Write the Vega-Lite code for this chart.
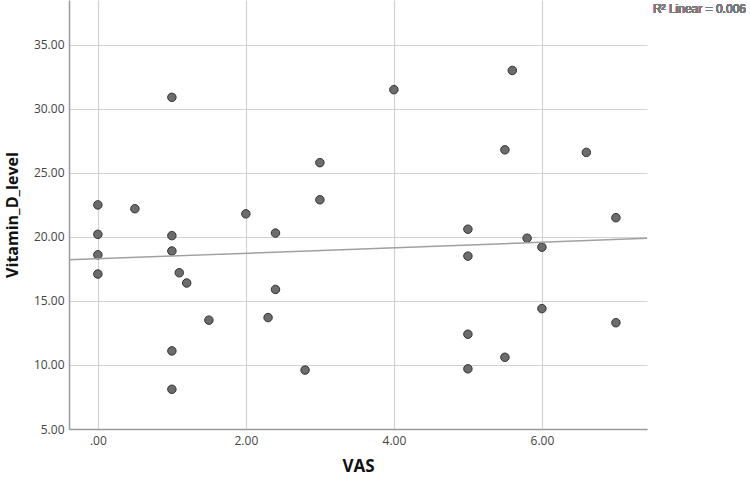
{
  "$schema": "https://vega.github.io/schema/vega-lite/v6.json",
  "autosize": "none",
  "width": 578,
  "height": 429,
  "padding": {"left": 69, "top": 0, "right": 103, "bottom": 49},
  "background": "white",
  "config": {
    "view": {"stroke": null},
    "font": "Open Sans",
    "axis": {
      "labelFont": "Open Sans",
      "titleFont": "Open Sans",
      "labelColor": "#444444",
      "labelFontSize": 12,
      "titleFontSize": 16,
      "titleFontWeight": "bold",
      "titleColor": "#111111",
      "gridColor": "#d2d2d2",
      "gridWidth": 1.2,
      "domainColor": "#9a9a9a",
      "domainWidth": 1.5,
      "ticks": false
    }
  },
  "data": {
    "values": [
      {"VAS": 0, "Vitamin_D_level": 22.5},
      {"VAS": 0, "Vitamin_D_level": 20.2},
      {"VAS": 0, "Vitamin_D_level": 18.6},
      {"VAS": 0, "Vitamin_D_level": 17.1},
      {"VAS": 0.5, "Vitamin_D_level": 22.2},
      {"VAS": 1, "Vitamin_D_level": 30.9},
      {"VAS": 1, "Vitamin_D_level": 20.1},
      {"VAS": 1, "Vitamin_D_level": 18.9},
      {"VAS": 1.1, "Vitamin_D_level": 17.2},
      {"VAS": 1.2, "Vitamin_D_level": 16.4},
      {"VAS": 1.5, "Vitamin_D_level": 13.5},
      {"VAS": 1, "Vitamin_D_level": 11.1},
      {"VAS": 1, "Vitamin_D_level": 8.1},
      {"VAS": 2, "Vitamin_D_level": 21.8},
      {"VAS": 2.4, "Vitamin_D_level": 20.3},
      {"VAS": 2.4, "Vitamin_D_level": 15.9},
      {"VAS": 2.3, "Vitamin_D_level": 13.7},
      {"VAS": 2.8, "Vitamin_D_level": 9.6},
      {"VAS": 3, "Vitamin_D_level": 25.8},
      {"VAS": 3, "Vitamin_D_level": 22.9},
      {"VAS": 4, "Vitamin_D_level": 31.5},
      {"VAS": 5, "Vitamin_D_level": 20.6},
      {"VAS": 5, "Vitamin_D_level": 18.5},
      {"VAS": 5, "Vitamin_D_level": 12.4},
      {"VAS": 5, "Vitamin_D_level": 9.7},
      {"VAS": 5.6, "Vitamin_D_level": 33.0},
      {"VAS": 5.5, "Vitamin_D_level": 26.8},
      {"VAS": 6.6, "Vitamin_D_level": 26.6},
      {"VAS": 7, "Vitamin_D_level": 21.5},
      {"VAS": 5.8, "Vitamin_D_level": 19.9},
      {"VAS": 6, "Vitamin_D_level": 19.2},
      {"VAS": 6, "Vitamin_D_level": 14.4},
      {"VAS": 7, "Vitamin_D_level": 13.3},
      {"VAS": 5.5, "Vitamin_D_level": 10.6}
    ]
  },
  "layer": [
    {
      "mark": {"type": "point", "filled": true, "fill": "#6c6c6c", "stroke": "#333333", "strokeWidth": 1, "size": 72, "opacity": 1},
      "encoding": {
        "x": {
          "field": "VAS", "type": "quantitative",
          "scale": {"domain": [-0.39, 7.42], "nice": false, "zero": false},
          "axis": {"title": "VAS", "values": [0, 2, 4, 6], "labelExpr": "datum.value == 0 ? '.00' : format(datum.value, '.2f')", "labelPadding": 6, "titlePadding": 12, "titleFontSize": 17}
        },
        "y": {
          "field": "Vitamin_D_level", "type": "quantitative",
          "scale": {"domain": [5, 38.5], "nice": false, "zero": false},
          "axis": {"title": "Vitamin_D_level", "values": [5, 10, 15, 20, 25, 30, 35], "format": ".2f", "labelPadding": 5, "titlePadding": 13}
        }
      }
    },
    {
      "transform": [
        {"regression": "Vitamin_D_level", "on": "VAS", "extent": [-0.39, 7.42]}
      ],
      "mark": {"type": "line", "color": "#a0a0a0", "strokeWidth": 1.5, "clip": true},
      "encoding": {
        "x": {"field": "VAS", "type": "quantitative"},
        "y": {"field": "Vitamin_D_level", "type": "quantitative"}
      }
    },
    {
      "mark": {"type": "text", "text": "R² Linear = 0.006", "align": "left", "baseline": "middle", "fill": "#7a7a7a", "fontSize": 12, "font": "Liberation Sans", "clip": false},
      "encoding": {
        "x": {"datum": 7.5},
        "y": {"datum": 37.8}
      }
    }
  ]
}
